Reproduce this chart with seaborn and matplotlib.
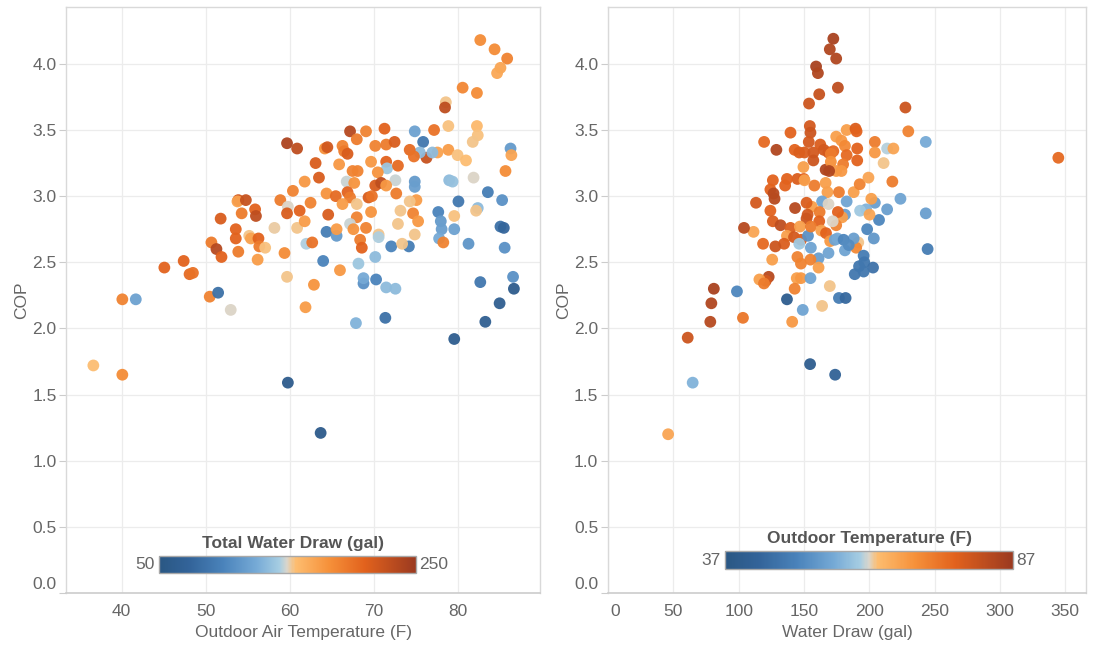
import matplotlib
matplotlib.use("Agg")
import matplotlib.pyplot as plt
from matplotlib.colors import LinearSegmentedColormap, Normalize
from matplotlib.cm import ScalarMappable
from matplotlib.transforms import ScaledTranslation
import seaborn as sns
import pandas as pd

# ---------------- data ----------------
# Left panel: outdoor air temperature (F), COP, total water draw (gal)
temp_left = [82.7, 84.4, 85.9, 85.1, 84.7, 80.6, 82.3, 78.6, 78.5, 78.9, 82.3, 82.4, 81.8, 86.3, 86.4,
             85.7, 78.9, 80.0, 81.0, 77.6, 77.2, 74.9, 75.9, 76.3, 75.5, 77.0, 74.3, 74.8, 74.9, 74.9,
             75.1, 74.3, 74.7, 75.3, 74.9, 74.2, 77.7, 78.0, 78.1, 77.8, 78.3, 79.6, 80.1, 79.0, 79.4,
             79.6, 81.3, 81.9, 83.6, 82.4, 82.2, 85.3, 85.1, 85.5, 85.6, 86.6, 86.7, 82.7, 85.0, 83.3,
             71.4, 67.9, 71.5, 72.6, 70.3, 68.8, 68.8, 70.2, 68.2,
             40.1, 41.7, 45.1, 47.4, 48.1, 48.5, 50.5, 51.5, 53.0, 50.7, 51.3, 51.9, 51.8, 53.9, 53.6,
             53.6, 54.3, 53.9, 53.8, 54.8, 55.2, 55.4, 56.3, 55.9, 56.0, 56.4, 57.1, 56.2, 58.2, 58.9,
             59.4, 59.7, 60.9, 59.7, 59.8, 59.7, 60.4, 61.2, 60.9, 61.8, 61.8, 62.0, 62.7, 61.9, 62.9,
             62.5, 63.1, 63.5, 64.2, 64.5, 64.4, 64.6, 65.5, 64.4, 65.6, 65.6, 64.0, 65.9, 66.3, 66.5,
             66.9, 67.2, 68.0, 69.1, 70.2, 71.3, 71.5, 72.5, 69.7, 71.5, 71.6, 72.9, 70.5, 72.6, 67.5,
             68.1, 66.8, 67.7, 70.2, 70.9, 71.5, 72.7, 66.9, 67.2, 69.4, 69.8, 66.3, 68.0, 69.7, 68.0,
             73.2, 72.9, 67.2, 67.6, 69.1, 70.6, 70.6, 68.4, 68.6, 72.1, 73.4, 66.0,
             36.65, 40.1, 59.8, 63.7, 79.6]
cop_left = [4.18, 4.11, 4.04, 3.97, 3.93, 3.82, 3.78, 3.71, 3.67, 3.53, 3.53, 3.46, 3.41, 3.36, 3.31,
            3.19, 3.35, 3.31, 3.27, 3.33, 3.50, 3.49, 3.41, 3.29, 3.33, 3.33, 3.35, 3.30, 3.11, 3.07,
            2.97, 2.96, 2.87, 2.81, 2.71, 2.62, 2.88, 2.81, 2.75, 2.68, 2.65, 2.75, 2.96, 3.12, 3.11,
            2.85, 2.64, 3.14, 3.03, 2.91, 2.89, 2.97, 2.77, 2.76, 2.61, 2.39, 2.30, 2.35, 2.19, 2.05,
            2.08, 2.04, 2.31, 2.30, 2.37, 2.34, 2.38, 2.54, 2.49,
            2.22, 2.22, 2.46, 2.51, 2.41, 2.42, 2.24, 2.27, 2.14, 2.65, 2.60, 2.54, 2.83, 2.58, 2.75,
            2.68, 2.87, 2.97, 2.96, 2.97, 2.70, 2.68, 2.68, 2.90, 2.85, 2.62, 2.61, 2.52, 2.76, 2.97,
            2.57, 3.40, 3.36, 2.39, 2.92, 2.87, 3.04, 2.89, 2.76, 2.81, 3.11, 2.64, 2.65, 2.16, 2.33,
            2.95, 3.25, 3.14, 3.36, 3.37, 3.02, 2.86, 3.00, 2.73, 2.70, 2.75, 2.51, 3.24, 3.38, 3.34,
            3.32, 3.49, 3.43, 3.49, 3.38, 3.51, 3.39, 3.41, 3.26, 3.26, 3.21, 3.23, 3.18, 3.12, 3.19,
            3.19, 3.11, 3.10, 3.08, 3.10, 3.08, 3.02, 3.03, 2.99, 2.99, 3.00, 2.94, 2.94, 2.88, 2.84,
            2.89, 2.79, 2.79, 2.75, 2.76, 2.71, 2.69, 2.67, 2.61, 2.62, 2.64, 2.44,
            1.72, 1.65, 1.59, 1.21, 1.92]
draw_left = [185, 185, 190, 170, 168, 188, 185, 154, 230, 155, 158, 155, 154, 115, 170,
             185, 175, 155, 156, 172, 200, 120, 90, 225, 135, 135, 205, 200, 115, 118,
             175, 154, 190, 178, 154, 95, 100, 115, 118, 125, 190, 120, 90, 135, 138,
             155, 112, 150, 95, 135, 154, 110, 85, 75, 110, 110, 60, 90, 65, 65,
             85, 130, 135, 135, 100, 110, 125, 135, 140,
             190, 120, 210, 210, 205, 200, 190, 85, 150, 195, 235, 210, 215, 195, 210,
             210, 195, 220, 172, 225, 154, 172, 210, 210, 230, 195, 155, 175, 153, 195,
             185, 240, 230, 154, 150, 215, 190, 210, 154, 175, 178, 145, 200, 175, 180,
             190, 215, 215, 182, 220, 180, 215, 205, 95, 115, 175, 100, 178, 190, 195,
             215, 235, 195, 190, 190, 210, 195, 215, 178, 210, 140, 205, 180, 148, 190,
             190, 148, 180, 215, 230, 178, 195, 210, 195, 215, 200, 175, 154, 180, 190,
             154, 154, 148, 180, 190, 154, 145, 195, 210, 100, 154, 178,
             156, 185, 60, 58, 62]

# Right panel: water draw (gal), COP, outdoor temperature (F)
draw_right = [172.5, 169.8, 174.7, 159.3, 160.7, 176.0, 161.7, 153.9, 227.7, 229.9, 154.5, 155.0, 153.7,
              139.7, 119.5, 128.9, 142.9, 146.4, 150.4, 157.2, 157.2, 162.5, 165.2, 168.7, 172.5, 166.6,
              170.6, 174.7, 178.7, 181.4, 182.7, 189.5, 190.3, 190.8, 190.8, 182.7, 180.0, 170.6, 174.7,
              178.7, 169.3, 149.6, 149.9, 145.0, 137.0, 126.2, 124.3, 126.7, 127.5, 135.6, 158.0, 150.4,
              166.6, 168.0, 176.8, 188.1, 192.7, 199.4, 217.7, 204.3, 204.3, 213.7, 218.5, 211.0, 243.3,
              344.8, 223.9, 243.3, 244.7, 213.7, 207.5, 204.3, 201.6, 197.6, 193.0, 200.2, 198.4, 203.5,
              191.6, 190.0, 188.1, 182.7, 181.4, 179.2, 176.0, 174.7, 172.0, 163.9, 168.8, 156.0, 152.0,
              152.8, 152.0, 162.0, 161.7, 143.2, 124.3, 126.2, 132.1, 139.7, 137.0, 142.4, 147.8, 153.1,
              155.3, 146.9, 155.3, 163.3, 166.9, 170.1, 173.6, 175.6, 180.4, 181.4, 184.3, 168.8, 161.2,
              146.4, 134.8, 128.1, 118.7, 111.4, 104.1, 113.3, 125.7, 145.0, 147.7, 155.0, 161.2, 195.7,
              192.2, 196.2, 202.9, 188.9, 195.7, 144.5, 147.7, 155.0, 142.9, 123.0, 120.8, 115.9, 119.4,
              169.8, 137.0, 176.8, 181.9, 98.7, 81.0, 79.1, 78.3, 103.3, 163.9, 149.1, 141.0,
              61.0, 64.8, 46.0, 154.7, 173.9]
cop_right = [4.19, 4.11, 4.04, 3.98, 3.93, 3.82, 3.77, 3.70, 3.67, 3.49, 3.53, 3.48, 3.41,
             3.48, 3.41, 3.35, 3.35, 3.33, 3.33, 3.33, 3.27, 3.39, 3.35, 3.33, 3.34, 3.20,
             3.32, 3.45, 3.42, 3.38, 3.50, 3.51, 3.49, 3.36, 3.27, 3.31, 3.24, 3.26, 3.19,
             3.19, 3.19, 3.22, 3.13, 3.13, 3.13, 3.12, 3.05, 3.02, 2.98, 3.08, 3.08, 3.12,
             3.10, 3.03, 3.03, 3.03, 3.09, 3.14, 3.11, 3.41, 3.33, 3.36, 3.36, 3.25, 3.41,
             3.29, 2.98, 2.87, 2.60, 2.90, 2.82, 2.95, 2.98, 2.90, 2.89, 2.86, 2.75, 2.68,
             2.65, 2.61, 2.68, 2.96, 2.86, 2.84, 2.88, 2.78, 2.81, 2.96, 2.94, 2.92, 2.95,
             2.86, 2.83, 2.88, 2.81, 2.91, 2.89, 2.81, 2.78, 2.76, 2.70, 2.69, 2.67, 2.70,
             2.61, 2.77, 2.77, 2.74, 2.72, 2.66, 2.67, 2.68, 2.67, 2.59, 2.63, 2.57, 2.53,
             2.64, 2.64, 2.62, 2.64, 2.73, 2.76, 2.95, 2.52, 2.54, 2.49, 2.52, 2.46, 2.55,
             2.47, 2.50, 2.46, 2.41, 2.43, 2.38, 2.38, 2.38, 2.30, 2.39, 2.36, 2.37, 2.34,
             2.32, 2.22, 2.23, 2.23, 2.28, 2.30, 2.19, 2.05, 2.08, 2.17, 2.14, 2.05,
             1.93, 1.59, 1.20, 1.73, 1.65]
temp_right = [85, 84, 84, 85, 84, 82, 81, 80, 80, 72, 79, 80, 79,
              77, 76, 84, 77, 78, 78, 79, 80, 78, 79, 79, 76, 84,
              73, 68, 69, 71, 68, 78, 77, 77, 77, 76, 73, 70, 69,
              69, 84, 68, 77, 78, 77, 77, 77, 83, 83, 77, 73, 68,
              68, 68, 73, 68, 72, 67, 73, 73, 69, 61, 67, 63, 56,
              76, 55, 54, 48, 54, 50, 54, 68, 57, 60, 67, 50, 53,
              63, 71, 54, 55, 54, 68, 77, 72, 62, 55, 62, 68, 78,
              79, 80, 73, 77, 83, 77, 78, 82, 78, 68, 79, 78, 52,
              55, 68, 73, 68, 77, 69, 55, 56, 50, 55, 51, 55, 54,
              60, 78, 80, 76, 67, 83, 79, 68, 72, 72, 72, 68, 48,
              47, 47, 46, 47, 47, 68, 69, 55, 72, 83, 79, 68, 73,
              63, 40, 48, 44, 50, 85, 84, 83, 74, 63, 55, 69,
              80, 57, 67, 40, 42]

left_range = (50, 250)
right_range = (37, 87)
cop_ticks = [0.0, 0.5, 1.0, 1.5, 2.0, 2.5, 3.0, 3.5, 4.0]
temp_ticks = [40, 50, 60, 70, 80]
draw_ticks = [0, 50, 100, 150, 200, 250, 300, 350]

# ---------------- style ----------------
sns.set_theme(style="white")
plt.rcParams["font.family"] = ["Liberation Sans", "DejaVu Sans"]

# orange-blue diverging ramp
cmap = LinearSegmentedColormap.from_list(
    "orange_blue_div",
    [(0.0, "#2a5783"), (0.12, "#33649a"), (0.25, "#4a83bb"), (0.38, "#76aad6"),
     (0.47, "#a6cde2"), (0.5, "#dad6cc"), (0.53, "#fdbd70"), (0.66, "#f6913a"),
     (0.8, "#e2621d"), (1.0, "#9b3a20")])

TICK_C = "#666666"
GRID_C = "#ececec"
SPINE_C = "#d9d9d9"
FS = 12.5

fig = plt.figure(figsize=(10.95, 6.47), dpi=100)
ax_l = fig.add_axes([0.0607, 0.0835, 0.4324, 0.9057])
ax_r = fig.add_axes([0.5553, 0.0835, 0.4365, 0.9057])

df_l = pd.DataFrame({"temp": temp_left, "cop": cop_left, "draw": draw_left})
df_r = pd.DataFrame({"draw": draw_right, "cop": cop_right, "temp": temp_right})

sns.scatterplot(data=df_l, x="temp", y="cop", hue="draw", palette=cmap, hue_norm=left_range,
                s=72, linewidth=0, alpha=0.95, legend=False, ax=ax_l, zorder=3)
sns.scatterplot(data=df_r, x="draw", y="cop", hue="temp", palette=cmap, hue_norm=right_range,
                s=72, linewidth=0, alpha=0.95, legend=False, ax=ax_r, zorder=3)


def style_axes(ax, xticks, xlim, xlabel):
    ax.set_xlim(*xlim)
    ax.set_ylim(0, 4.43)
    ax.set_xticks(xticks)
    ax.set_yticks(cop_ticks)
    ax.set_yticklabels([f"{v:.1f}" for v in cop_ticks])
    ax.grid(True, color=GRID_C, linewidth=0.9, zorder=0)
    ax.set_axisbelow(True)
    for side in ["top", "right", "left"]:
        ax.spines[side].set_color(SPINE_C)
        ax.spines[side].set_linewidth(1.0)
    ax.spines["bottom"].set_color("#cccccc")
    ax.spines["bottom"].set_linewidth(1.2)
    ax.tick_params(axis="y", length=5, width=0.8, color="#cccccc", pad=2,
                   labelsize=FS, labelcolor=TICK_C, left=True)
    ax.tick_params(axis="x", length=0, pad=8, labelsize=FS, labelcolor=TICK_C, bottom=True)
    ax.set_xlabel(xlabel, fontsize=FS, color=TICK_C, labelpad=4)
    ax.set_ylabel("COP", fontsize=FS, color=TICK_C, labelpad=2)


style_axes(ax_l, temp_ticks, (33.45, 89.8), "Outdoor Air Temperature (F)")
style_axes(ax_r, draw_ticks, (0, 366), "Water Draw (gal)")


def add_legend_bar(rect, vrange, title, title_x):
    cax = fig.add_axes(rect)
    sm = ScalarMappable(norm=Normalize(*vrange), cmap=cmap)
    cb = fig.colorbar(sm, cax=cax, orientation="horizontal")
    cb.outline.set_edgecolor("#a8a8a8")
    cb.outline.set_linewidth(1.0)
    mid = (vrange[0] + vrange[1]) / 2
    cax.set_xticks([mid])
    cax.set_xticklabels([""])
    cax.tick_params(axis="x", direction="in", length=4, width=1.2, color="#222222")
    x0, y0, w, h = rect
    yc = y0 + h / 2
    fig.text(x0 - 0.004, yc, f"{vrange[0]}", ha="right", va="center", fontsize=FS, color=TICK_C)
    fig.text(x0 + w + 0.003, yc, f"{vrange[1]}", ha="left", va="center", fontsize=FS, color=TICK_C)
    fig.text(title_x, y0 + h + 0.008, title, ha="center", va="bottom", fontsize=FS,
             fontweight="bold", color="#555555")


add_legend_bar([0.1455, 0.1144, 0.2341, 0.0263], left_range, "Total Water Draw (gal)", 0.2676)
add_legend_bar([0.6621, 0.1201, 0.2627, 0.0287], right_range, "Outdoor Temperature (F)", 0.7945)

# edge tick labels sit inside the plot frame
def nudge(label, dx, dy):
    label.set_transform(label.get_transform() + ScaledTranslation(dx / 100, dy / 100, fig.dpi_scale_trans))

for ax in (ax_l, ax_r):
    nudge(ax.yaxis.get_major_ticks()[0].label1, 0, 10)
nudge(ax_r.xaxis.get_major_ticks()[0].label1, 7, 0)

fig.savefig("out.png", dpi=100)
